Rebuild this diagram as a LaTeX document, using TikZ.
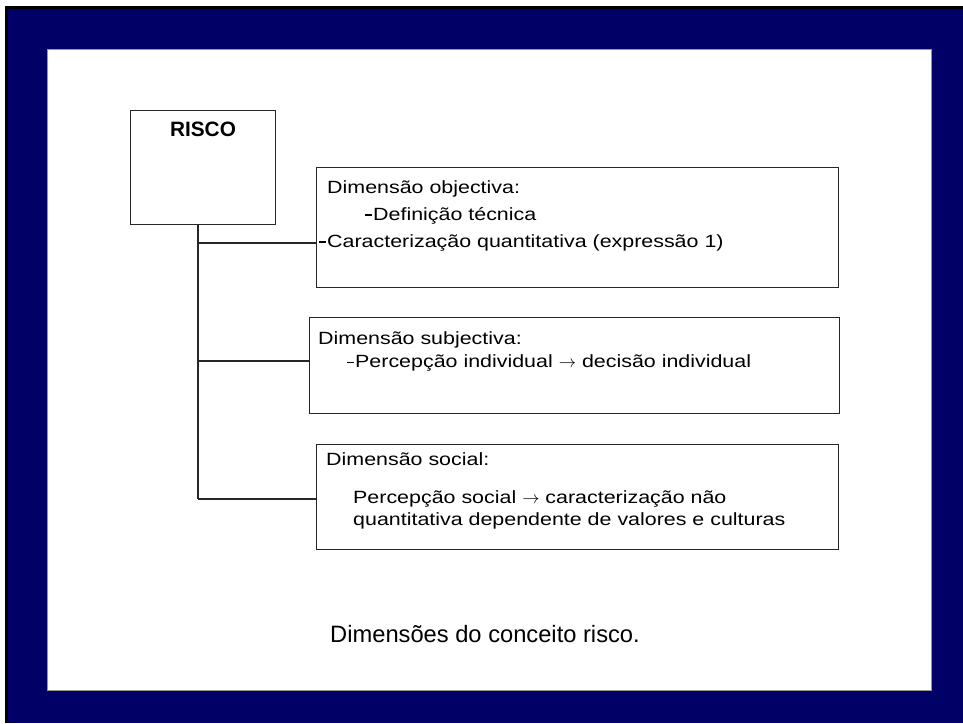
\documentclass[tikz,border=0pt]{standalone}
\usepackage{fontspec}
\setmainfont{Liberation Sans}
\newfontfamily\boxfont[FakeStretch=1.21]{Liberation Sans}
\usetikzlibrary{positioning}
\definecolor{framenavy}{RGB}{0,0,102}
\definecolor{panelgrey}{RGB}{150,150,150}
\newcommand{\dimdash}{\llap{\rule[4.4pt]{7pt}{1.2pt}\kern0.8pt}}
\newcommand{\dimarrow}{$\rightarrow$}

\tikzset{
  dimbox/.style={draw=black!85, line width=1.2pt, inner sep=0pt, anchor=north west},
  dimtext/.style={align=left, inner sep=0pt, anchor=north west,
                  font=\boxfont\fontsize{17.7}{23}\selectfont},
  branch/.style={black!85, line width=1.1pt}
}

\begin{document}
\begin{tikzpicture}[x=1pt, y=-1pt]
  \useasboundingbox (0,0) rectangle (963,723);
  % slide frame
  \fill[black] (5,6) rectangle (963,723);
  \fill[framenavy] (7.5,8.5) rectangle (963,723);
  \draw[fill=white, draw=panelgrey, line width=1pt] (47,49) rectangle (931,690);

  % RISCO box
  \node[dimbox, minimum width=145pt, minimum height=114pt] (risco) at (130,110) {};
  \node[font=\fontsize{20.8}{24}\selectfont\bfseries, anchor=base] (riscolbl) at (203,136) {RISCO};

  % tree
  \coordinate (trunktop) at (198,224);
  \coordinate (j1) at (198,243);
  \coordinate (j2) at (198,361);
  \coordinate (j3) at (198,499);

  % dimension boxes
  \node[dimbox, minimum width=522pt, minimum height=120pt] (obj) at (316,167) {};
  \node[dimbox, minimum width=530pt, minimum height=96pt] (subj) at (309,317) {};
  \node[dimbox, minimum width=522pt, minimum height=105pt] (soc) at (316,444) {};

  \draw[branch] (trunktop) -- (j3);
  \draw[branch] (j1) -- (j1 -| obj.west);
  \draw[branch] (j2) -- (j2 -| subj.west);
  \draw[branch] (j3) -- (j3 -| soc.west);

  \node[dimtext] (objtxt) at (327,180) {Dimensão objectiva:\\[4pt]
    \hspace*{46pt}\dimdash Definição técnica\\[4pt]
    \dimdash Caracterização quantitativa (expressão 1)};
  \node[dimtext] (subjtxt) at (318,331) {Dimensão subjectiva:\\[0.5pt]
    \hspace*{37pt}\dimdash Percepção individual \dimarrow{} decisão individual};
  \node[dimtext] (soctxt) at (326,452) {Dimensão social:\\[15pt]
    \hspace*{27pt}Percepção social \dimarrow{} caracterização não\\[-1pt]
    \hspace*{27pt}quantitativa dependente de valores e culturas};

  % caption
  \node[font=\fontsize{23.7}{28}\selectfont, anchor=base] (caption) at (485,642)
    {Dimensões do conceito risco.};
\end{tikzpicture}
\end{document}
